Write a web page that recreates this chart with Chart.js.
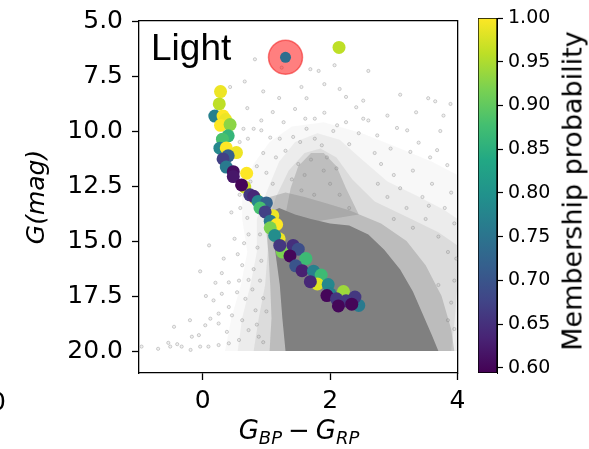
<!DOCTYPE html>
<html>
<head>
<meta charset="utf-8">
<script src="https://cdn.jsdelivr.net/npm/chart.js@4"></script>
<style>
  html, body { margin: 0; padding: 0; background: #fff; }
  #wrap { position: relative; width: 589px; height: 449px; overflow: hidden; font-family: 'DejaVu Sans', sans-serif; color: #000; }
  #main { position: absolute; left: 0; top: -3px; }
  #cbar { position: absolute; left: 470px; top: 0; }
  .txt { position: absolute; white-space: nowrap; line-height: 1; }
  #light { left: 151px; top: 29px; font: 37px 'Liberation Sans', Arial, sans-serif; line-height: 37px; }
  #xtitle { left: 299px; top: 432px; transform: translate(-50%, -50%); font-size: 26px; font-style: italic; }
  #xtitle sub { font-size: 18px; vertical-align: -5px; }
  #xtitle .op { font-style: normal; padding: 0 6px; }
  #cblabel { left: 572px; top: 191px; transform: translate(-50%, -50%) rotate(-90deg); font-size: 27px; }
  #stray { left: -10px; top: 389px; font-size: 25px; }
</style>
</head>
<body>
<div id="wrap">
  <canvas id="main" width="476" height="452"></canvas>
  <canvas id="cbar" width="119" height="449"></canvas>
  <div class="txt" id="light">Light</div>
  <div class="txt" id="xtitle">G<sub>BP</sub><span class="op">−</span>G<sub>RP</sub></div>
  <div class="txt" id="cblabel">Membership probability</div>
  <div class="txt" id="stray">0</div>
</div>
<script>
// ---------- Data ----------
// cluster members: [BP-RP, G, membership probability]
const members = [
  [0.28, 8.21, 0.99], [0.26, 8.77, 0.96], [0.19, 9.32, 0.77], [0.32, 9.32, 1.00],
  [0.36, 9.48, 0.99], [0.28, 9.74, 1.00], [0.43, 9.71, 0.93], [0.40, 10.22, 0.86],
  [0.31, 10.37, 0.88], [0.27, 10.78, 0.78], [0.37, 10.77, 1.00], [0.53, 10.98, 0.99],
  [0.40, 11.13, 0.72], [0.32, 11.27, 0.67], [0.37, 11.64, 0.76], [0.48, 11.85, 0.61],
  [0.69, 11.92, 1.00], [0.48, 12.07, 0.62], [0.66, 12.55, 0.97], [0.61, 12.45, 0.60],
  [0.74, 12.90, 0.66], [0.82, 13.05, 0.98], [0.80, 12.97, 0.64], [0.87, 13.20, 0.78],
  [1.00, 13.27, 0.72], [0.90, 13.50, 0.88], [1.10, 13.85, 0.99], [0.98, 13.68, 0.67],
  [1.06, 14.10, 0.76], [1.16, 14.25, 1.00], [1.06, 14.40, 0.92], [1.20, 14.90, 0.99],
  [1.13, 14.75, 0.79], [1.25, 15.50, 0.92], [1.21, 15.20, 0.66], [1.42, 15.20, 0.65],
  [1.50, 15.37, 0.69], [1.37, 15.68, 0.60], [1.62, 15.80, 0.87], [1.46, 16.13, 0.70],
  [1.56, 16.35, 0.63], [1.74, 16.37, 0.77], [1.86, 16.55, 0.87], [1.80, 16.95, 0.98],
  [1.69, 16.85, 0.64], [1.97, 16.98, 0.78], [2.00, 17.40, 0.77], [1.95, 17.48, 0.60],
  [2.21, 17.30, 0.94], [2.10, 17.63, 0.66], [2.25, 17.72, 0.66], [2.13, 17.95, 0.60],
  [2.45, 17.93, 0.76], [2.39, 17.55, 0.66], [2.34, 17.87, 0.60], [2.14, 6.20, 0.96],
];
// the highlighted star inside the red ring
const circled = [[1.30, 6.65, 0.74]];

// sparse field stars: [BP-RP, G]
const fieldStars = [
  [0.82, 6.74], [1.24, 7.12], [1.69, 7.19], [1.82, 7.27], [2.07, 7.01], [2.60, 7.27], [0.66, 7.75],
  [1.91, 7.87], [0.43, 8.00], [2.15, 8.09], [1.63, 8.51], [2.52, 8.62], [3.54, 8.51], [3.65, 8.65],
  [3.89, 8.77], [2.41, 8.92], [0.70, 8.96], [1.10, 9.14], [1.91, 9.17], [3.78, 9.30], [1.61, 9.44],
  [1.76, 9.44], [2.52, 9.44], [2.60, 9.52], [0.92, 9.52], [1.27, 9.60], [2.11, 9.74], [3.05, 9.86],
  [0.64, 9.90], [0.80, 9.90], [1.63, 9.90], [0.92, 9.97], [3.21, 9.97], [3.73, 10.00], [2.74, 10.20],
  [1.42, 10.27], [1.06, 10.30], [0.71, 10.35], [1.21, 10.35], [1.76, 10.35], [0.58, 10.50],
  [1.53, 10.50], [3.39, 10.53], [1.87, 10.65], [2.95, 10.80], [3.68, 10.87], [3.26, 10.95],
  [3.57, 11.20], [3.84, 11.55], [2.90, 9.30], [3.35, 9.15], [2.25, 8.45], [3.10, 8.35], [2.45, 10.10],
  [2.30, 10.60], [2.70, 11.00], [2.80, 11.50], [3.00, 12.00], [3.30, 11.80], [3.60, 12.40],
  [3.90, 12.80], [3.10, 12.60], [3.45, 13.00], [3.80, 13.50], [3.95, 14.20], [0.85, 11.60],
  [0.95, 11.00], [1.15, 11.20], [1.30, 10.90], [0.75, 12.30], [0.58, 12.90], [1.00, 11.90],
  [1.10, 12.40], [2.05, 10.00], [2.25, 9.60], [1.45, 9.00], [1.20, 8.50], [0.95, 8.20], [1.55, 8.00],
  [-0.04, 16.38], [0.30, 16.46], [0.41, 16.88], [0.57, 16.80], [0.72, 16.77], [0.80, 16.28],
  [0.86, 15.30], [0.72, 14.70], [0.70, 13.95], [0.59, 13.50], [0.54, 17.33], [0.30, 17.40],
  [0.17, 17.70], [0.41, 18.00], [0.25, 18.30], [0.46, 18.38], [0.12, 18.53], [0.25, 18.75],
  [0.04, 18.83], [-0.06, 19.28], [-0.17, 19.35], [0.38, 19.13], [-0.33, 19.80], [-0.40, 19.69],
  [-0.54, 19.63], [-0.51, 19.80], [-0.19, 19.95], [-0.04, 19.80], [0.09, 19.80], [-0.96, 19.80],
  [0.67, 17.63], [0.83, 18.15], [0.62, 18.60], [0.72, 19.05], [0.88, 19.35], [0.57, 19.50],
  [0.25, 19.73], [0.41, 19.65], [0.55, 15.60], [0.62, 16.10], [0.50, 14.90], [0.65, 15.10],
  [0.45, 13.70], [0.20, 16.90], [0.05, 17.50], [-0.20, 18.60], [-0.70, 19.90], [-0.45, 18.90],
  [0.33, 15.80], [0.10, 15.20], [3.85, 15.50], [3.95, 16.80], [3.90, 17.80], [3.95, 19.00],
  [3.85, 18.60], [3.70, 17.00], [3.98, 15.80],
  // speckle inside the giant-branch plume, right wing and left of the core
  [1.50, 11.50], [1.60, 12.00], [1.70, 11.30], [1.90, 11.80], [2.00, 12.40], [1.55, 12.70],
  [2.15, 12.90], [1.75, 12.90], [1.40, 12.20], [2.30, 13.50], [1.95, 11.20], [2.10, 11.70],
  [2.90, 13.00], [3.20, 13.50], [3.50, 14.00], [3.70, 14.80], [3.30, 14.40], [3.00, 14.00],
  [2.75, 12.40], [3.55, 13.40], [0.90, 16.80], [0.95, 17.60], [0.85, 18.80], [0.95, 19.60],
  [1.00, 18.20], [0.78, 17.20], [0.92, 15.90], [0.90, 14.70],
];

// outlines of the crowded field, nested from faint halo to saturated core
const haloOutline = [
  [0.35, 20.0], [0.45, 18.5], [0.60, 17.0], [0.70, 15.5], [0.62, 14.0], [0.62, 12.8], [0.80, 11.5],
  [1.05, 10.5], [1.40, 9.8], [1.90, 9.6], [2.50, 10.1], [3.10, 10.8], [3.60, 11.4], [4.00, 12.0], [4.00, 20.0],
];
const outerHazeOutline = [
  [0.55, 20.0], [0.62, 18.5], [0.75, 17.0], [0.85, 15.5], [0.85, 14.0], [1.00, 12.8], [1.20, 11.4],
  [1.45, 10.5], [1.80, 10.1], [2.15, 10.4], [2.50, 11.3], [2.90, 12.3], [3.40, 13.0], [3.80, 13.6],
  [4.00, 14.0], [4.00, 20.0],
];
const hazeOutline = [
  [0.80, 20.0], [0.88, 18.5], [0.98, 17.0], [1.02, 15.5], [1.02, 14.2], [1.15, 13.0], [1.35, 11.8],
  [1.60, 11.0], [1.85, 10.8], [2.10, 11.2], [2.35, 12.2], [2.70, 13.2], [3.20, 13.9], [3.70, 14.6],
  [4.00, 15.2], [4.00, 17.0], [3.95, 18.8], [3.90, 20.0],
];
const plumeOutline = [
  [1.30, 13.8], [1.38, 12.6], [1.50, 11.6], [1.70, 11.0], [1.90, 11.0], [2.10, 11.6], [2.25, 12.6],
  [2.45, 13.8], [1.80, 14.1],
];
const nearCoreOutline = [
  [1.05, 20.0], [1.08, 18.5], [1.06, 17.0], [1.03, 15.5], [0.98, 14.0], [1.05, 13.0], [1.30, 12.8],
  [1.60, 13.0], [1.95, 13.3], [2.30, 13.6], [2.80, 14.2], [3.20, 15.0], [3.50, 16.1], [3.75, 17.5],
  [3.90, 19.0], [3.95, 20.0],
];
const coreOutline = [
  [1.30, 20.0], [1.25, 18.5], [1.21, 17.0], [1.14, 15.5], [1.08, 14.5], [1.05, 13.7], [1.20, 13.5],
  [1.45, 13.8], [1.70, 14.0], [2.00, 14.2], [2.30, 14.3], [2.60, 14.7], [2.85, 15.4], [3.10, 16.3],
  [3.30, 17.3], [3.45, 18.3], [3.60, 19.3], [3.70, 20.0],
];

const xTicks = [0, 2, 4];
const yTicks = [5, 7.5, 10, 12.5, 15, 17.5, 20];
const cbTicks = [0.60, 0.65, 0.70, 0.75, 0.80, 0.85, 0.90, 0.95, 1.00];
const CB_MIN = 0.594;
const CB_MAX = 1.0;

// ---------- Colour map ----------
const VIRIDIS = [
  [68, 1, 84], [72, 36, 117], [65, 68, 135], [53, 95, 141], [42, 120, 142], [33, 145, 140],
  [34, 168, 132], [68, 191, 112], [122, 209, 81], [189, 223, 38], [253, 231, 37],
];
function viridis(t) {
  t = Math.min(1, Math.max(0, t));
  const f = t * 10;
  const i = Math.min(9, Math.floor(f));
  const u = f - i;
  const a = VIRIDIS[i], b = VIRIDIS[i + 1];
  const c = a.map((v, k) => Math.round(v + (b[k] - v) * u));
  return `rgb(${c[0]},${c[1]},${c[2]})`;
}
const probColor = (p) => viridis((p - CB_MIN) / (CB_MAX - CB_MIN));

const toPts = (arr) => arr.map(([x, y]) => ({ x, y }));
const FONT = "'DejaVu Sans', sans-serif";

function region(outline, color, order) {
  return {
    data: toPts(outline),
    showLine: true,
    fill: 'shape',
    backgroundColor: color,
    borderWidth: 0,
    pointRadius: 0,
    order,
  };
}

// ---------- Main CMD ----------
new Chart(document.getElementById('main'), {
  type: 'scatter',
  data: {
    datasets: [
      {
        data: toPts(circled),
        pointRadius: 5.5,
        backgroundColor: circled.map((m) => probColor(m[2])),
        borderWidth: 0,
        order: 0,
      },
      {
        data: toPts(circled),
        pointRadius: 17,
        backgroundColor: 'rgba(255,0,0,0.5)',
        borderColor: 'rgba(240,30,30,0.55)',
        borderWidth: 1.5,
        order: 1,
      },
      {
        data: toPts(members),
        pointRadius: 6.5,
        backgroundColor: members.map((m) => probColor(m[2])),
        borderWidth: 0,
        order: 2,
      },
      {
        data: toPts(fieldStars),
        pointRadius: 1.6,
        backgroundColor: 'rgba(128,128,128,0.12)',
        borderColor: 'rgba(128,128,128,0.45)',
        borderWidth: 0.8,
        order: 4,
      },
      region(coreOutline, 'rgb(128,128,128)', 5),
      region(nearCoreOutline, 'rgba(128,128,128,0.35)', 6),
      region(plumeOutline, 'rgba(128,128,128,0.32)', 7),
      region(hazeOutline, 'rgba(128,128,128,0.15)', 8),
      region(outerHazeOutline, 'rgba(128,128,128,0.1)', 9),
      region(haloOutline, 'rgba(128,128,128,0.06)', 10),
    ],
  },
  options: {
    responsive: false,
    animation: false,
    devicePixelRatio: 1,
    layout: { padding: { top: 10, right: 7, bottom: 0, left: 0 } },
    plugins: { legend: { display: false }, tooltip: { enabled: false } },
    scales: {
      x: {
        type: 'linear', min: -1, max: 4,
        afterBuildTicks: (s) => { s.ticks = xTicks.map((v) => ({ value: v })); },
        afterFit: (s) => { s.height = 76; },
        ticks: { color: '#000', font: { family: FONT, size: 25 }, padding: 6, maxRotation: 0 },
        grid: { drawOnChartArea: false, tickLength: 7, tickWidth: 1.3, color: '#000' },
        border: { color: '#000', width: 1.3 },
      },
      y: {
        type: 'linear', min: 5, max: 21, reverse: true,
        afterBuildTicks: (s) => { s.ticks = yTicks.map((v) => ({ value: v })); },
        afterFit: (s) => { s.width = 139; },
        ticks: { color: '#000', font: { family: FONT, size: 25 }, padding: 9, callback: (v) => v.toFixed(1) },
        grid: { drawOnChartArea: false, tickLength: 7, tickWidth: 1.3, color: '#000' },
        border: { color: '#000', width: 1.3 },
        title: { display: true, text: 'G(mag)', color: '#000', font: { family: FONT, size: 25, style: 'italic' }, padding: { top: 22, bottom: 0 } },
      },
      xTop: {
        type: 'linear', position: 'top', min: -1, max: 4,
        ticks: { display: false }, grid: { display: false },
        border: { color: '#000', width: 1.3 },
        afterFit: (s) => { s.height = 0; },
      },
      yRight: {
        type: 'linear', position: 'right', min: 5, max: 21,
        ticks: { display: false }, grid: { display: false },
        border: { color: '#000', width: 1.3 },
        afterFit: (s) => { s.width = 0; },
      },
    },
  },
});

// ---------- Colour bar ----------
new Chart(document.getElementById('cbar'), {
  type: 'bar',
  data: {
    labels: [''],
    datasets: [{
      data: [[CB_MIN, CB_MAX]],
      backgroundColor: (c) => {
        const area = c.chart.chartArea;
        if (!area) return null;
        const g = c.chart.ctx.createLinearGradient(0, area.bottom, 0, area.top);
        VIRIDIS.forEach((rgb, i) => g.addColorStop(i / 10, `rgb(${rgb.join(',')})`));
        return g;
      },
      borderColor: '#000',
      borderWidth: 1,
      borderSkipped: false,
      barPercentage: 1,
      categoryPercentage: 1,
    }],
  },
  options: {
    responsive: false,
    animation: false,
    devicePixelRatio: 1,
    layout: { padding: { top: 18, right: 0, bottom: 76, left: 8 } },
    plugins: { legend: { display: false }, tooltip: { enabled: false } },
    scales: {
      x: { display: false },
      y: {
        position: 'right', min: CB_MIN, max: CB_MAX,
        afterBuildTicks: (s) => { s.ticks = cbTicks.map((v) => ({ value: v })); },
        afterFit: (s) => { s.width = 92; },
        ticks: { color: '#000', font: { family: FONT, size: 19 }, padding: 5, callback: (v) => v.toFixed(2) },
        grid: { drawOnChartArea: false, tickLength: 6, tickWidth: 1.2, color: '#000' },
        border: { color: '#000', width: 1 },
      },
    },
  },
});
</script>
</body>
</html>
